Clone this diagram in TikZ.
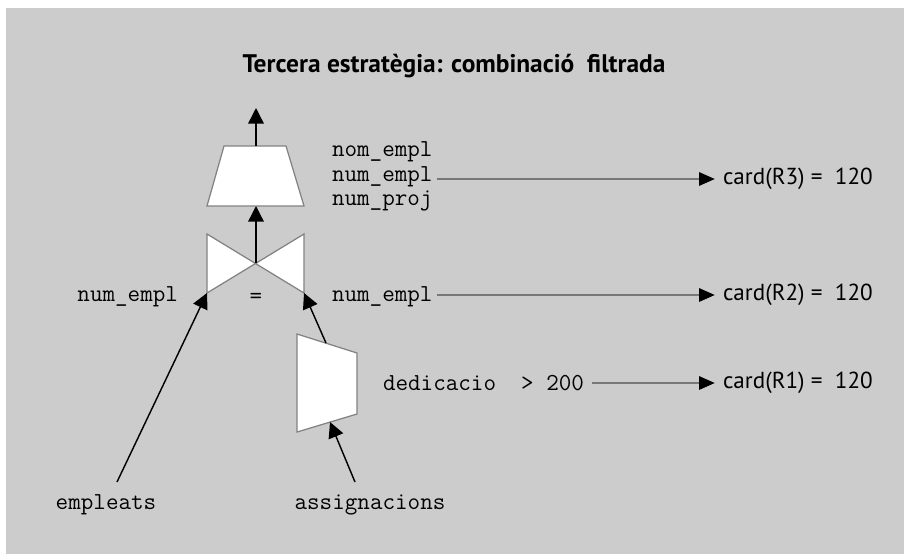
\documentclass[tikz,border=0pt]{standalone}
\usepackage{fontspec}
\setmainfont{PT Sans}
\usetikzlibrary{arrows.meta,positioning}
\definecolor{panelgray}{RGB}{204,204,204}
\definecolor{shapegray}{RGB}{130,130,130}
\definecolor{linegray}{RGB}{120,120,120}

\begin{document}
\begin{tikzpicture}[x=0.017cm, y=-0.017cm,
    txt/.style={inner sep=0pt, outer sep=0pt},
    attr/.style={txt, anchor=west, font=\ttfamily\fontsize{11.8}{13}\selectfont},
    card/.style={txt, anchor=west, font=\fontsize{11.2}{13}\selectfont},
    opshape/.style={fill=white, draw=shapegray, line width=0.6pt},
    flow/.style={line width=0.7pt, -{Triangle[length=7.5pt, width=7.5pt]}},
    cost/.style={draw=linegray, line width=0.5pt, -{Triangle[length=7.5pt, width=6.5pt, color=black]}}]

% panel
\useasboundingbox (0,0) rectangle (904,554);
\fill[white] (0,0) rectangle (904,554);
\fill[panelgray] (6,8) rectangle (904,554);

% title
\node[txt, font=\bfseries\fontsize{12.3}{14}\selectfont] (title) at (454,66)
    {Tercera estratègia: combinació\ \ filtrada};

% projection
\coordinate (out) at (256,108);
\coordinate (proj-top) at (256,146);
\coordinate (proj-bot) at (256,206);
\draw[opshape] (224,146) -- (286,146) -- (304,206) -- (207,206) -- cycle;

% join (bowtie)
\coordinate (join) at (256,263);
\coordinate (join-tl) at (207,234);
\coordinate (join-bl) at (207,293);
\coordinate (join-tr) at (304,234);
\coordinate (join-br) at (304,293);
\draw[opshape] (join-tl) -- (join-br) -- (join-tr) -- (join-bl) -- cycle;
\node[attr, anchor=center] (eq) at (256,298) {=};

% selection
\coordinate (sel-top) at (326,343);
\coordinate (sel-bot) at (330,422);
\draw[opshape] (297,334) -- (357,353) -- (357,414) -- (297,432) -- cycle;

% base relations
\node[attr, anchor=center] (emp) at (106,505) {empleats};
\node[attr, anchor=center] (asg) at (370,505) {assignacions};
\coordinate (emp-src) at (117,482);
\coordinate (asg-src) at (355,482);

% data flow
\draw[flow] (emp-src) -- (join-bl);
\draw[flow] (asg-src) -- (sel-bot);
\draw[flow] (sel-top) -- (join-br);
\draw[flow] (join) -- (proj-bot);
\draw[flow] (proj-top) -- (out);

% attributes
\node[attr] (nom) at (332,152) {nom\_empl};
\node[attr] (pk3) at (332,177) {num\_empl};
\node[attr] (proj) at (332,201) {num\_proj};
\node[attr, anchor=east] (pkl) at (178,297) {num\_empl};
\node[attr] (pkr) at (332,297) {num\_empl};
\node[attr] (cond) at (383,383) {dedicacio\ \ >\ 200};

% cardinalities
\node[card] (c3) at (723,179) {card(R3) =\ \ 120};
\node[card] (c2) at (723,295) {card(R2) =\ \ 120};
\node[card] (c1) at (723,383) {card(R1) =\ \ 120};

\draw[cost, shorten <=2pt, shorten >=4pt] (pk3.east |- c3.west) -- (c3.west);
\draw[cost, shorten <=2pt, shorten >=4pt] (pkr.east |- c2.west) -- (c2.west);
\draw[cost, shorten <=4pt, shorten >=4pt] (cond.east |- c1.west) -- (c1.west);

\end{tikzpicture}
\end{document}
